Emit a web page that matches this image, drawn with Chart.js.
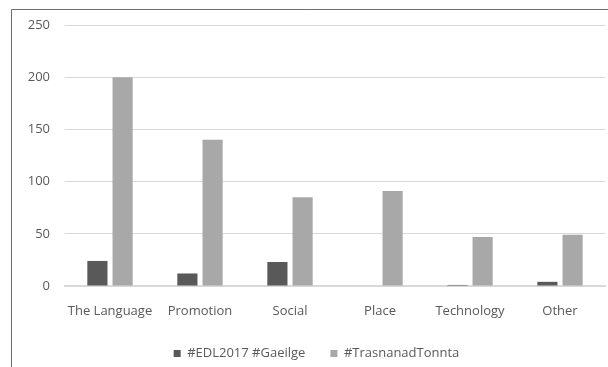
<!DOCTYPE html>
<html>
<head>
<meta charset="utf-8">
<script src="https://cdn.jsdelivr.net/npm/chart.js@4/dist/chart.umd.min.js"></script>
<style>
  html, body { margin: 0; padding: 0; background: #fff; overflow: hidden; }
  #chart { display: block; }
</style>
</head>
<body>
<canvas id="chart" width="608" height="367"></canvas>
<script>
const categories = ['The Language', 'Promotion', 'Social', 'Place', 'Technology', 'Other'];
const seriesNames = ['#EDL2017 #Gaeilge', '#TrasnanadTonnta'];
const edlValues = [24, 12, 23, 0, 1, 4];
const trasnaValues = [200, 140, 85, 91, 47, 49];
const yTicks = [0, 50, 100, 150, 200, 250];

const FONT = "'Open Sans', 'Liberation Sans', sans-serif";
const TEXT = '#595959';

// chart frame: only the top and left edges fall inside the canvas
const framePlugin = {
    id: 'frame',
    beforeDraw(chart) {
        const c = chart.ctx;
        c.save();
        c.strokeStyle = '#6e6e6e';
        c.lineWidth = 1;
        c.beginPath();
        c.moveTo(11.5, chart.height);
        c.lineTo(11.5, 9.5);
        c.lineTo(chart.width, 9.5);
        c.stroke();
        c.restore();
    }
};

// legend sits a little right of the canvas centre
const legendShift = {
    id: 'legendShift',
    afterLayout(chart) {
        const lg = chart.legend;
        lg.left += 14;
        lg.right += 14;
    }
};

new Chart(document.getElementById('chart'), {
    type: 'bar',
    plugins: [framePlugin, legendShift],
    data: {
        labels: categories,
        datasets: [
            { label: seriesNames[0], data: edlValues, backgroundColor: '#595959', borderWidth: 0 },
            { label: seriesNames[1], data: trasnaValues, backgroundColor: '#a8a8a8', borderWidth: 0 }
        ]
    },
    options: {
        responsive: false,
        animation: false,
        categoryPercentage: 0.56,
        barPercentage: 0.8,
        layout: { padding: { top: 25, right: 3, left: 0, bottom: -3 } },
        plugins: {
            tooltip: { enabled: false },
            legend: {
                position: 'bottom',
                labels: {
                    boxWidth: 7, boxHeight: 7, padding: 25,
                    color: TEXT,
                    font: { family: FONT, size: 13 }
                }
            }
        },
        scales: {
            x: {
                afterFit: s => { s.height = 36; },
                grid: { display: false, drawTicks: false },
                border: { display: true, color: '#d9d9d9', width: 2 },
                ticks: { color: TEXT, padding: 17, maxRotation: 0, font: { family: FONT, size: 13 } }
            },
            y: {
                min: 0, max: 250,
                afterFit: s => { s.width = 65; },
                afterBuildTicks: s => { s.ticks = yTicks.map(v => ({ value: v })); },
                grid: { color: '#d9d9d9', drawTicks: false },
                border: { display: false },
                ticks: { color: TEXT, padding: 15, font: { family: FONT, size: 13 } }
            }
        }
    }
});
</script>
</body>
</html>
